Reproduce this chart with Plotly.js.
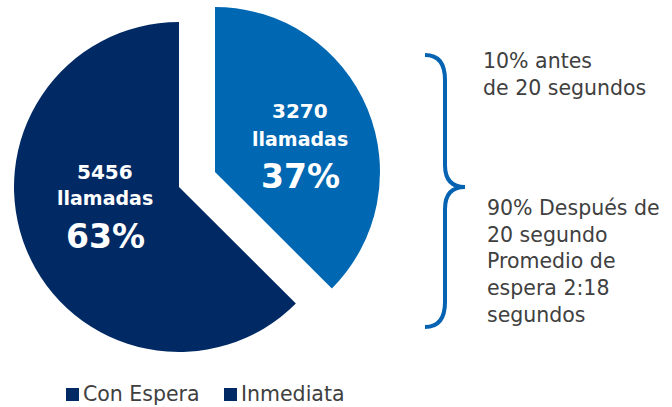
<!DOCTYPE html>
<html>
<head>
<meta charset="utf-8">
<script src="https://cdn.plot.ly/plotly-3.0.1.min.js"></script>
<style>
  html, body { margin: 0; padding: 0; background: #fff; }
  #chart { width: 672px; height: 407px; }
</style>
</head>
<body>
<div id="chart"></div>
<script>
// slice data, in drawing order (clockwise from 12 o'clock)
const labels = ["Inmediata", "Con Espera"];
const values = [3270, 5456];
const sliceColors = ["#0067b2", "#012a64"];

// legend order as shown under the pie
const legendLabels = ["Con Espera", "Inmediata"];

// notes beside the brace
const noteTop = ["10% antes", "de 20 segundos"];
const noteBottom = ["90% Después de", "20 segundo", "Promedio de", "espera 2:18", "segundos"];

const W = 672, H = 407;
const FONT = "DejaVu Sans, sans-serif";
const GREY = "#404040";

// pixel -> paper helpers (margins are zero)
function px(x) { return x / W; }
function py(y) { return 1 - y / H; }

let total = values.reduce((a, b) => a + b, 0);

// one trace per visible slice so the light slice can sit apart
// from the dark one without shrinking the pie
function sliceTrace(k, cx, cy, r) {
    let colors = sliceColors.map((c, i) => i == k ? c : "rgba(0,0,0,0)");
    return {
        type: "pie",
        labels: labels,
        values: values,
        sort: false,
        direction: "clockwise",
        rotation: 0,
        marker: {colors: colors, line: {width: 0}},
        textinfo: "none",
        hoverinfo: "none",
        showlegend: false,
        domain: {x: [px(cx - r), px(cx + r)], y: [py(cy + r), py(cy - r)]}
    };
}

let data = [
    sliceTrace(1, 179, 187, 165),
    sliceTrace(0, 215, 172, 165)
];

let annotations = [];
let shapes = [];

function note(x, y, text, size, bold, color, xanchor) {
    annotations.push({xref: "paper", yref: "paper", x: px(x), y: py(y),
        xanchor: xanchor || "center", yanchor: "middle", showarrow: false,
        text: bold ? "<b>" + text + "</b>" : text,
        font: {family: FONT, size: size, color: color}});
}

// slice labels: count, "llamadas", rounded percent
// [x centre, y of the three lines] for each slice
let labelPos = [[300, [111, 139, 176]], [105, [172, 198, 236]]];
for (let i = 0; i < values.length; i++) {
    let p = labelPos[i];
    let pct = Math.round(values[i] / total * 100) + "%";
    note(p[0], p[1][0], String(values[i]), 20, true, "#ffffff");
    note(p[0], p[1][1], "llamadas", 19, true, "#ffffff");
    note(p[0], p[1][2], pct, 33, true, "#ffffff");
}

// brace
let bx = 425, bm = 445, tip = 465, yTop = 55, yMid = 187, yBot = 327;
let path = "M " + px(bx) + " " + py(yTop) +
    " Q " + px(bm) + " " + py(yTop) + " " + px(bm) + " " + py(yTop + 25) +
    " L " + px(bm) + " " + py(yMid - 22) +
    " Q " + px(bm) + " " + py(yMid) + " " + px(tip) + " " + py(yMid) +
    " Q " + px(bm) + " " + py(yMid) + " " + px(bm) + " " + py(yMid + 22) +
    " L " + px(bm) + " " + py(yBot - 25) +
    " Q " + px(bm) + " " + py(yBot) + " " + px(bx) + " " + py(yBot);
shapes.push({type: "path", xref: "paper", yref: "paper", path: path,
    line: {color: "#0563b2", width: 4}});

// notes
annotations.push({xref: "paper", yref: "paper", x: px(481), y: py(47),
    xanchor: "left", yanchor: "top", align: "left", showarrow: false,
    text: noteTop.join("<br>"),
    font: {family: FONT, size: 20.5, color: GREY}});
annotations.push({xref: "paper", yref: "paper", x: px(485), y: py(194),
    xanchor: "left", yanchor: "top", align: "left", showarrow: false,
    text: noteBottom.join("<br>"),
    font: {family: FONT, size: 20.5, color: GREY}});

// legend drawn by hand so both markers use the dark colour
let legendX = [66, 224];
for (let i = 0; i < legendLabels.length; i++) {
    let x0 = legendX[i];
    shapes.push({type: "rect", xref: "paper", yref: "paper",
        x0: px(x0), x1: px(x0 + 13), y0: py(401), y1: py(388),
        fillcolor: sliceColors[1], line: {width: 0}});
    note(x0 + 15, 394, legendLabels[i], 20.5, false, GREY, "left");
}

let layout = {
    width: W,
    height: H,
    margin: {l: 0, r: 0, t: 0, b: 0},
    paper_bgcolor: "#ffffff",
    showlegend: false,
    shapes: shapes,
    annotations: annotations
};

Plotly.newPlot("chart", data, layout, {displayModeBar: false, staticPlot: true});
</script>
</body>
</html>
